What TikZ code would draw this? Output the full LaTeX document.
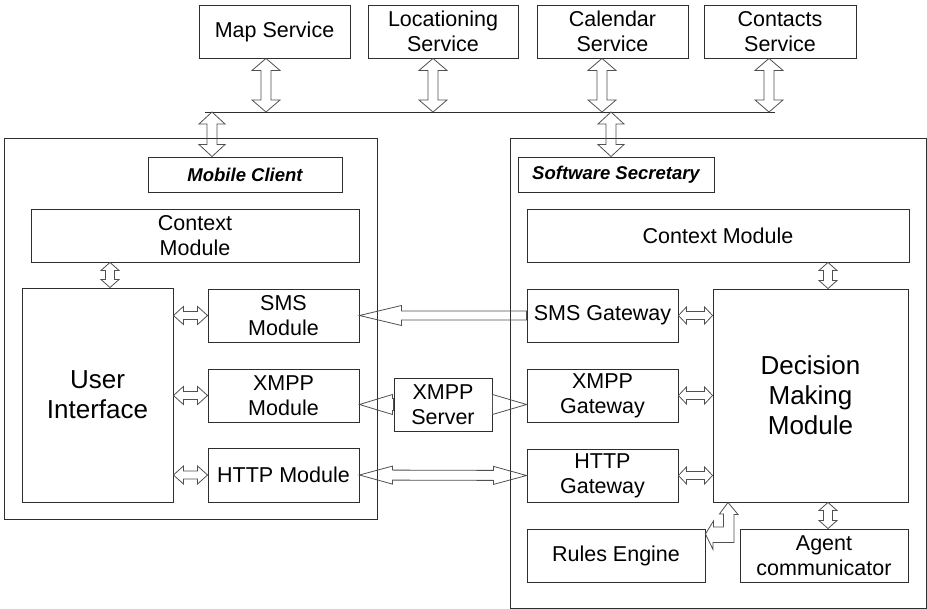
\documentclass[tikz,border=0pt]{standalone}
\usepackage{fontspec}
\setmainfont{Liberation Sans}
\usetikzlibrary{calc}

\definecolor{boxgray}{HTML}{2E2E2E}
\definecolor{arrowgray}{HTML}{505050}

\tikzset{
  box/.style={draw=boxgray, line width=0.9pt, inner sep=0pt, align=center,
              font=\fontsize{21.5}{25}\selectfont},
  frame/.style={draw=boxgray, line width=0.9pt, inner sep=0pt},
  titlebox/.style={box, font=\fontsize{18.5}{22}\selectfont\bfseries\itshape},
  bigbox/.style={box, font=\fontsize{26}{30}\selectfont},
  hollow/.style={draw=arrowgray, line width=0.8pt, line join=miter},
  bus/.style={draw=boxgray, line width=0.9pt},
}

% rectangle node given by its corners: name, x1, y1, x2, y2, style, text
\newcommand{\blk}[7]{%
  \node[#6, minimum width={(#4-#2)*1pt}, minimum height={(#5-#3)*1pt}]
    (#1) at ({(#2+#4)/2},{(#3+#5)/2}) {#7};}

% hollow two-headed arrow: from, to, shaft half width, head half width, head length
\newcommand{\twoway}[5]{%
  \draw[hollow] (#1)
    -- ($(#1)!#5!(#2)!#4!90:(#2)$)
    -- ($(#1)!#5!(#2)!#3!90:(#2)$)
    -- ($(#2)!#5!(#1)!#3!-90:(#1)$)
    -- ($(#2)!#5!(#1)!#4!-90:(#1)$)
    -- (#2)
    -- ($(#2)!#5!(#1)!#4!90:(#1)$)
    -- ($(#2)!#5!(#1)!#3!90:(#1)$)
    -- ($(#1)!#5!(#2)!#3!-90:(#2)$)
    -- ($(#1)!#5!(#2)!#4!-90:(#2)$)
    -- cycle;}

% hollow one-headed arrow: tail, tip, shaft half width, head half width, head length
\newcommand{\oneway}[5]{%
  \draw[hollow] ($(#1)!#3!90:(#2)$)
    -- ($(#2)!#5!(#1)!#3!-90:(#1)$)
    -- ($(#2)!#5!(#1)!#4!-90:(#1)$)
    -- (#2)
    -- ($(#2)!#5!(#1)!#4!90:(#1)$)
    -- ($(#2)!#5!(#1)!#3!90:(#1)$)
    -- ($(#1)!#3!-90:(#2)$)
    -- cycle;}

\begin{document}
\begin{tikzpicture}[x=1pt, y=-1pt]
\useasboundingbox (0,0) rectangle (927,609);

% external services
\blk{map}{199}{5}{350}{58}{box}{Map Service}
\blk{loc}{368}{5}{518}{58}{box}{Locationing\\Service}
\blk{cal}{537}{5}{688}{58}{box}{Calendar\\Service}
\blk{con}{704}{5}{856}{58}{box}{Contacts\\Service}

% service bus
\coordinate (busL) at (205,112);
\coordinate (busR) at (775,112);
\draw[bus] (busL) -- (busR);

% the two subsystems
\blk{mobile}{4}{138}{377}{519}{frame}{}
\blk{secretary}{510}{138}{926}{608}{frame}{}
\blk{mtitle}{148}{157}{342}{192}{titlebox}{Mobile Client}
\blk{stitle}{518}{157}{714}{192}{titlebox}{Software Secretary}

% mobile client modules
\blk{mctx}{31}{209}{359}{262}{box}{Context\\Module}
\blk{ui}{22}{288}{173}{502}{bigbox}{User\\Interface}
\blk{smsmod}{208}{289}{359}{342}{box}{SMS\\Module}
\blk{xmppmod}{208}{369}{359}{422}{box}{XMPP\\Module}
\blk{httpmod}{208}{448}{359}{502}{box}{HTTP Module}

% XMPP server
\blk{xserver}{394}{378}{492}{431}{box}{XMPP\\Server}

% software secretary modules
\blk{sctx}{527}{209}{909}{262}{box}{Context Module}
\blk{sgw}{527}{289}{678}{342}{box}{SMS Gateway}
\blk{xgw}{527}{369}{678}{422}{box}{XMPP\\Gateway}
\blk{hgw}{527}{449}{678}{502}{box}{HTTP\\Gateway}
\blk{dmm}{713}{289}{908}{502}{bigbox}{Decision\\Making\\Module}
\blk{rules}{527}{529}{705}{582}{box}{Rules Engine}
\blk{agent}{740}{529}{908}{582}{box}{Agent\\communicator}

% attachment points
\coordinate (mapT) at (map.south -| 266,0);
\coordinate (mapB) at (busL -| 266,0);
\coordinate (locT) at (loc.south -| 433,0);
\coordinate (locB) at (busL -| 433,0);
\coordinate (calT) at (cal.south -| 602,0);
\coordinate (calB) at (busL -| 602,0);
\coordinate (conT) at (con.south -| 769,0);
\coordinate (conB) at (busL -| 769,0);
\coordinate (mobT) at (busL -| 212,0);
\coordinate (mobB) at (mtitle.north -| 212,0);
\coordinate (secT) at (busL -| 611,0);
\coordinate (secB) at (stitle.north -| 611,0);
\coordinate (mctxB) at (mctx.south -| 110,0);
\coordinate (uiT) at (ui.north -| 110,0);
\coordinate (uiSms) at (smsmod.west -| ui.east);
\coordinate (uiXmpp) at (xmppmod.west -| ui.east);
\coordinate (uiHttp) at (httpmod.west -| ui.east);
\coordinate (xsL) at (xserver.west);
\coordinate (xmodR) at (xserver.west -| xmppmod.east);
\coordinate (xsR) at (xserver.east);
\coordinate (xgwL) at (xserver.east -| xgw.west);
\coordinate (dmSms) at (sgw.east -| dmm.west);
\coordinate (dmXmpp) at (xgw.east -| dmm.west);
\coordinate (dmHttp) at (hgw.east -| dmm.west);
\coordinate (sctxB) at (sctx.south -| 828,0);
\coordinate (dmT) at (dmm.north -| 828,0);
\coordinate (dmB) at (dmm.south -| 828,0);
\coordinate (agT) at (agent.north -| 828,0);

% services <-> bus
\twoway{mapT}{mapB}{5pt}{14pt}{12pt}
\twoway{locT}{locB}{5pt}{14pt}{12pt}
\twoway{calT}{calB}{5pt}{14pt}{12pt}
\twoway{conT}{conB}{5pt}{14pt}{12pt}
\twoway{mobT}{mobB}{5pt}{13pt}{12pt}
\twoway{secT}{secB}{5pt}{13pt}{12pt}

% inside the mobile client
\twoway{mctxB}{uiT}{4.5pt}{9pt}{8pt}
\twoway{uiSms}{smsmod.west}{4pt}{9pt}{10pt}
\twoway{uiXmpp}{xmppmod.west}{4pt}{9pt}{10pt}
\twoway{uiHttp}{httpmod.west}{4pt}{9pt}{10pt}

% links between the subsystems
\oneway{sgw.west}{smsmod.east}{4.5pt}{10pt}{42pt}
\oneway{xsL}{xmodR}{6pt}{10pt}{33pt}
\oneway{xsR}{xgwL}{6pt}{10pt}{34pt}
\twoway{httpmod.east}{hgw.west}{5pt}{9pt}{33pt}

% inside the software secretary
\twoway{sgw.east}{dmSms}{4pt}{8.5pt}{8pt}
\twoway{xgw.east}{dmXmpp}{4pt}{8.5pt}{8pt}
\twoway{hgw.east}{dmHttp}{4pt}{8.5pt}{8pt}
\twoway{sctxB}{dmT}{4.5pt}{9pt}{8pt}
\twoway{dmB}{agT}{4.5pt}{9pt}{8pt}

% bent arrow between the decision module and the rules engine
\coordinate (bendTip) at (dmm.south -| 728,0);
\coordinate (bendEnd) at (rules.east |- 0,534);
\draw[hollow] (bendTip) -- ++(10,12) -- ++(-4,0) -- ++(0,28) -- ++(-21,0)
  -- ++(0,7) -- (bendEnd) -- ++(8,-13) -- ++(0,6) -- ++(10,0) -- ++(0,-13)
  -- ++(-4,0) -- cycle;
\end{tikzpicture}
\end{document}
